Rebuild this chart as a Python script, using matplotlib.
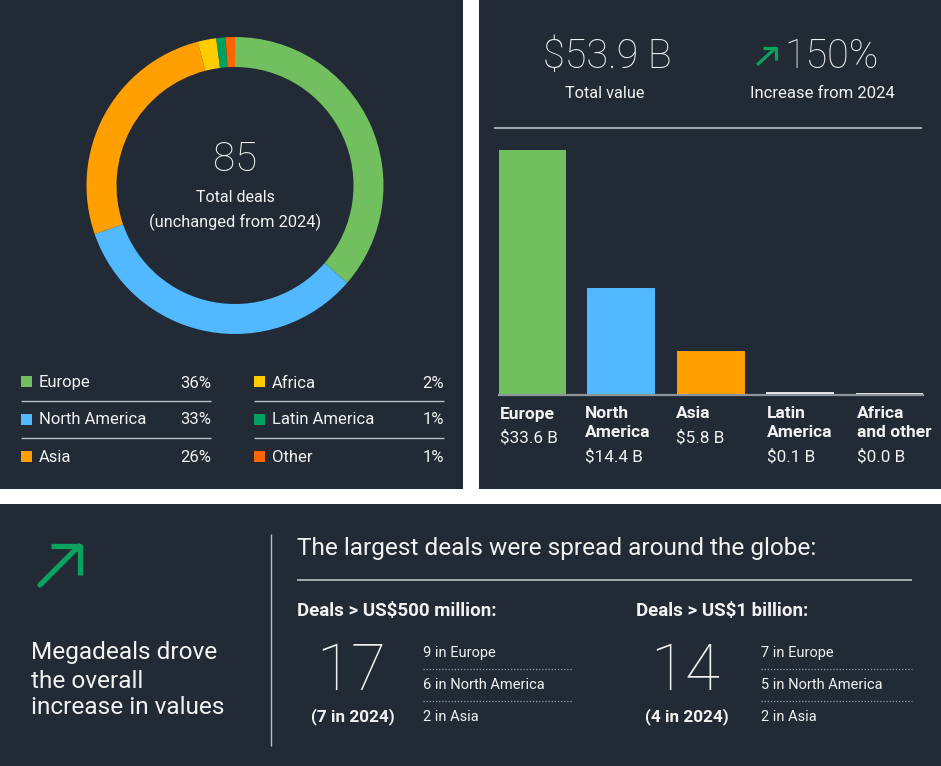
import matplotlib
matplotlib.use("Agg")
import matplotlib.pyplot as plt
from matplotlib.patches import Rectangle
from matplotlib.lines import Line2D

# ---------------- data ----------------
regions = ["Europe", "North America", "Asia", "Africa", "Latin America", "Other"]
deal_share = [36, 33, 26, 2, 1, 1]
region_colors = ["#72bf5f", "#52b9ff", "#ffa000", "#ffcc00", "#00a060", "#ff6400"]
total_deals = "85"

bar_labels = [["Europe"], ["North", "America"], ["Asia"], ["Latin", "America"], ["Africa", "and other"]]
bar_values = [33.6, 14.4, 5.8, 0.1, 0.0]
bar_value_labels = ["$33.6 B", "$14.4 B", "$5.8 B", "$0.1 B", "$0.0 B"]
bar_colors = ["#72bf5f", "#52b9ff", "#ffa000", "#e6e6e6", "#e6e6e6"]
total_value = "$53.9 B"
increase = "150%"

mega500_total = "17"
mega500_prev = "(7 in 2024)"
mega500_items = ["9 in Europe", "6 in North America", "2 in Asia"]
mega1b_total = "14"
mega1b_prev = "(4 in 2024)"
mega1b_items = ["7 in Europe", "5 in North America", "2 in Asia"]

# ---------------- style ----------------
W, H = 941, 766
DPI = 100
BG = "#212a35"
TXT = "#f2f2f2"
GREEN = "#0aa35e"
plt.rcParams["font.family"] = ["Roboto", "DejaVu Sans"]

fig = plt.figure(figsize=(W / DPI, H / DPI), dpi=DPI, facecolor="white")


def fx(x):
    return x / W


def fy(y):
    return 1 - y / H


def rect(x0, y0, x1, y1, color, z=-1):
    fig.patches.append(Rectangle((fx(x0), fy(y1)), (x1 - x0) / W, (y1 - y0) / H,
                                 transform=fig.transFigure, facecolor=color,
                                 edgecolor="none", zorder=z))


def text(x, y, s, size, weight="normal", ha="left", va="center", color=TXT, **kw):
    fig.text(fx(x), fy(y), s, fontsize=size, fontweight=weight, ha=ha, va=va,
             color=color, zorder=5, **kw)


def line(xs, ys, color, lw, ls="-", cap="butt"):
    fig.add_artist(Line2D([fx(x) for x in xs], [fy(y) for y in ys], color=color,
                          lw=lw, ls=ls, solid_capstyle=cap, transform=fig.transFigure,
                          zorder=5))


# panels
rect(0, 0, 463, 489, BG, z=-2)
rect(479, 0, 941, 489, BG, z=-2)
rect(0, 504, 941, 766, BG, z=-2)

# ---------------- donut ----------------
cx, cy, R = 235, 185.5, 148.5
axd = fig.add_axes([fx(cx - R), fy(cy + R), 2 * R / W, 2 * R / H], zorder=2)
axd.pie(deal_share, colors=region_colors, startangle=90, counterclock=False,
        radius=1, wedgeprops=dict(width=30 / R, linewidth=0))
axd.set_xlim(-1, 1)
axd.set_ylim(-1, 1)
axd.set_aspect("equal")
axd.set_facecolor("none")
axd.axis("off")

text(235, 160, total_deals, 29, weight="light", ha="center")
text(235, 198, "Total deals", 11.5, ha="center")
text(235, 222, "(unchanged from 2024)", 11.8, ha="center")

# legend
col_x = [(21, 211), (254, 444)]
row_y = [382, 419, 456]
for i, (name, pct, col) in enumerate(zip(regions, deal_share, region_colors)):
    c, r = divmod(i, 3)
    x0, x1 = col_x[c]
    y = row_y[r]
    rect(x0, y - 5.5, x0 + 11, y + 5.5, col, z=1)
    text(x0 + 18, y + 1, name, 12)
    text(x1, y + 1, f"{pct}%", 12, ha="right")
    if r < 2:
        line([x0, x1], [y + 19, y + 19], "#b9bec4", 1)

# ---------------- bar panel ----------------
text(607, 57, total_value, 28.5, weight="light", ha="center")
text(605, 93, "Total value", 11.7, ha="center")
text(832, 57, increase, 28.5, weight="light", ha="center")
text(822, 93, "Increase from 2024", 12, ha="center")
line([757, 776], [65, 47.5], GREEN, 2.3)
line([763, 776, 776], [47.5, 47.5, 60], GREEN, 2.3)
line([494, 922], [128, 128], "#c8ccd1", 1.1)

axb = fig.add_axes([fx(499), fy(394), (922.6 - 499) / W, (394 - 150) / H], zorder=2)
xs = list(range(len(bar_values)))
axb.bar(xs, bar_values, width=0.74, color=bar_colors, edgecolor=bar_colors,
        linewidth=1.4, zorder=3)
axb.set_xlim(-0.37, len(bar_values) - 1 + 0.37)
axb.set_ylim(0, max(bar_values))
axb.set_facecolor("none")
for s in ["top", "left", "right"]:
    axb.spines[s].set_visible(False)
axb.spines["bottom"].set_color("#8f959c")
axb.spines["bottom"].set_linewidth(1.6)
axb.spines["bottom"].set_position(("outward", 1))
axb.spines["bottom"].set_zorder(2)
axb.set_xticks([])
axb.set_yticks([])

label_left = [500, 585, 676, 767, 857]
for i, (lab, vl) in enumerate(zip(bar_labels, bar_value_labels)):
    x = label_left[i]
    for k, part in enumerate(lab):
        text(x, 414 + 18 * k, part, 12.5, weight="bold")
    text(x, 438 if len(lab) == 1 else 457, vl, 12.3)

# ---------------- bottom panel ----------------
line([40, 79], [585, 546], GREEN, 3.8, cap="round")
line([51, 79.5, 79.5], [546, 546, 575], GREEN, 3.8)
text(31, 653, "Megadeals drove", 17.6)
text(31, 681, "the overall", 17.6)
text(31, 708, "increase in values", 17.6)
line([271, 271], [534, 746], "#b9bec4", 1)

text(297, 548, "The largest deals were spread around the globe:", 17.6)
line([297, 912], [580, 580], "#c8ccd1", 1.1)

blocks = [
    (297, "Deals > US$500 million:", mega500_total, mega500_prev, mega500_items, 351, 423, 573),
    (636, "Deals > US$1 billion:", mega1b_total, mega1b_prev, mega1b_items, 685, 761, 912),
]
for hx, head, big, prev, items, bx, lx0, lx1 in blocks:
    text(hx, 611, head, 13.5, weight="bold")
    text(bx, 672, big, 46, weight="light", ha="center")
    text(bx + 2, 717, prev, 12.3, weight="bold", ha="center")
    for j, it in enumerate(items):
        yy = 653 + 32 * j
        text(lx0, yy, it, 10.5)
        if j < 2:
            line([lx0, lx1], [yy + 16, yy + 16], "#9aa0a7", 0.9, ls=(0, (1, 1.5)))

fig.savefig("out.png", dpi=DPI, facecolor="white")
